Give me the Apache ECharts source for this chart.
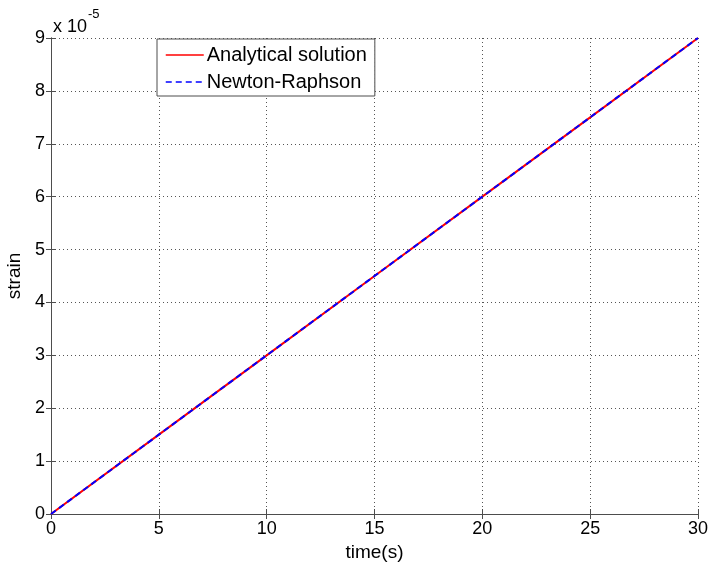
<!DOCTYPE html>
<html>
<head>
<meta charset="utf-8">
<script src="https://cdn.jsdelivr.net/npm/echarts@6/dist/echarts.min.js"></script>
<style>html,body{margin:0;padding:0;background:#fff}#c{width:710px;height:565px}</style>
</head>
<body>
<div id="c"></div>
<script>
// time in seconds
var timeS = [0, 5, 10, 15, 20, 25, 30];
// strain values in units of 1e-5
var analytical = [0, 1.5, 3, 4.5, 6, 7.5, 9];
var newtonRaphson = [0, 1.5, 3, 4.5, 6, 7.5, 9];
var xTicks = [0, 5, 10, 15, 20, 25, 30];
var yTicks = [0, 1, 2, 3, 4, 5, 6, 7, 8, 9];
var seriesNames = ['Analytical solution', 'Newton-Raphson'];

var font = 'Liberation Sans, Arial, sans-serif';
var chart = echarts.init(document.getElementById('c'), null, {renderer: 'canvas'});
function pairs(xs, ys) { return xs.map(function (x, i) { return [x, ys[i]]; }); }

var axisLine = {show: true, lineStyle: {color: '#4d4d4d', width: 1}};
var tick = {show: true, inside: true, length: 5, lineStyle: {color: '#4d4d4d'}};
var grid = {show: true, lineStyle: {color: '#555', type: [1, 3], width: 1}};

chart.setOption({
  animation: false,
  backgroundColor: '#fff',
  grid: {left: 51, right: 12, top: 38, bottom: 51, containLabel: false, outerBoundsMode: 'none'},
  legend: {
    data: seriesNames,
    orient: 'vertical',
    left: 157, top: 39,
    padding: [6, 8, 4, 8],
    itemWidth: 38, itemHeight: 18, itemGap: 7,
    backgroundColor: '#fff',
    borderColor: '#4d4d4d', borderWidth: 1,
    itemStyle: {opacity: 0},
    lineStyle: {width: 1.5},
    textStyle: {fontFamily: font, fontSize: 20, color: '#000', padding: [0, 0, 0, -2]}
  },
  xAxis: [{
    type: 'value', min: xTicks[0], max: xTicks[xTicks.length - 1], interval: 5,
    axisLine: axisLine, axisTick: tick, splitLine: grid,
    axisLabel: {fontFamily: font, fontSize: 18, color: '#000', margin: 6},
    name: 'time(s)', nameLocation: 'middle', nameGap: 28,
    nameTextStyle: {fontFamily: font, fontSize: 19, color: '#000'}
  }, {
    type: 'value', position: 'top', min: 0, max: 30, interval: 5,
    axisLine: axisLine, axisTick: tick, splitLine: {show: false}, axisLabel: {show: false}
  }],
  yAxis: [{
    type: 'value', min: yTicks[0], max: yTicks[yTicks.length - 1], interval: 1,
    axisLine: axisLine, axisTick: tick, splitLine: grid,
    axisLabel: {fontFamily: font, fontSize: 18, color: '#000', margin: 6},
    name: 'strain', nameLocation: 'middle', nameGap: 25, nameRotate: 90,
    nameTextStyle: {fontFamily: font, fontSize: 19, color: '#000'}
  }, {
    type: 'value', position: 'right', min: 0, max: 9, interval: 1,
    axisLine: axisLine, axisTick: tick, splitLine: {show: false}, axisLabel: {show: false}
  }],
  graphic: [{
    type: 'text', left: 53, top: 8, z: 100,
    style: {
      text: '{a|x 10}{b|-5}',
      rich: {
        a: {fontFamily: font, fontSize: 18, fill: '#000', padding: [10, 0, 0, 0]},
        b: {fontFamily: font, fontSize: 13, fill: '#000', verticalAlign: 'top', padding: [0, 0, 10, 1]}
      }
    }
  }],
  series: [{
    name: seriesNames[0], type: 'line', showSymbol: false, symbol: 'none',
    data: pairs(timeS, analytical),
    lineStyle: {color: '#ff0000', width: 2, type: 'solid'},
    itemStyle: {color: '#ff0000'}
  }, {
    name: seriesNames[1], type: 'line', showSymbol: false, symbol: 'none',
    data: pairs(timeS, newtonRaphson),
    lineStyle: {color: '#0000ff', width: 2, type: [6, 4]},
    itemStyle: {color: '#0000ff'}
  }]
});
</script>
</body>
</html>
